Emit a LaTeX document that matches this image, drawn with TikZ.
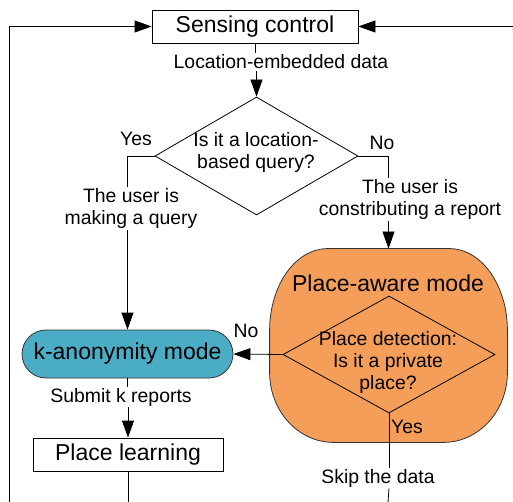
\documentclass[tikz,border=0pt]{standalone}
\usepackage{fontspec}
\setmainfont{Liberation Sans}
\usetikzlibrary{shapes.geometric,arrows.meta}
\definecolor{paorange}{HTML}{F59E59}
\definecolor{kblue}{HTML}{4BACC6}
\begin{document}
\begin{tikzpicture}[x=1pt,y=1pt,
  line width=0.8pt,
  small/.style={font=\fontsize{19.4}{21.8}\selectfont, align=center, inner sep=1pt},
  big/.style={font=\fontsize{23}{26}\selectfont, align=center, inner sep=0pt},
  boxnode/.style={draw, rectangle, big},
  diam/.style={draw, diamond, inner sep=0pt},
  wlab/.style={small, fill=white},
  arr/.style={-{Triangle[length=17pt,width=12pt]}},
]
\useasboundingbox (0,0) rectangle (513,-502);

% main shapes
\node[boxnode, minimum width=206, minimum height=33] (sense) at (255,-26.5) {Sensing control};
\node[diam, minimum width=203, minimum height=118] (q) at (256.5,-156) {};
\node[small] (qt) at (256,-152.5) {Is it a location-\\based query?};

\node[rectangle, minimum width=237, minimum height=193, inner sep=0pt] (pa) at (388.5,-345.5) {};
\draw[fill=paorange, draw=black!80]
  ([xshift=58]pa.north west) -- ([xshift=-58]pa.north east)
  arc[start angle=90, end angle=0, x radius=58, y radius=82]
  -- ([yshift=70]pa.south east)
  arc[start angle=0, end angle=-90, x radius=64, y radius=70]
  -- ([xshift=64]pa.south west)
  arc[start angle=270, end angle=180, x radius=64, y radius=70]
  -- ([yshift=-82]pa.north west)
  arc[start angle=180, end angle=90, x radius=58, y radius=82]
  -- cycle;
\node[big] (patitle) at (388,-283) {Place-aware mode};
\node[diam, minimum width=212, minimum height=117] (pd) at (389,-354.5) {};
\node[small] (pdt) at (388,-362.5) {Place detection:\\Is it a private\\place?};

\node[draw=black!80, fill=kblue, rectangle, rounded corners=24, minimum width=211, minimum height=48, big] (k) at (127.5,-354) {k-anonymity mode};
\node[boxnode, minimum width=190, minimum height=33] (pl) at (128,-454.5) {Place learning};

% labels
\node[small] (loclab) at (281,-62) {Location-embedded data};
\node[small] (yes1) at (136,-139) {Yes};
\node[small] (no1) at (382,-143) {No};
\node[small] (qy) at (131,-208.5) {The user is\\making a query};
\node[small] (qn) at (410,-199.5) {The user is\\constributing a report};
\node[small] (no2) at (246,-331) {No};
\node[small] (yes2) at (407,-427) {Yes};
\node[wlab] (skip) at (378,-478) {Skip the data};
\node[small] (sub) at (121,-397) {Submit k reports};

% free ends
\coordinate (lb) at (9,-502);
\coordinate (rb) at (514,-26.5);
\coordinate (plb) at (128,-502);
\coordinate (pdb) at (388,-502);

% connectors
\draw[arr] (lb) |- (sense.west);
\draw[arr] (rb) -- (sense.east);
\draw (sense.south) -- (sense.south |- loclab.north);
\draw[arr] (q.north |- loclab.south) -- (q.north);
\draw (q.west) -| (k.north |- qy.north);
\draw[arr] (k.north |- qy.south) -- (k.north);
\draw (q.east) -| (pa.north |- qn.north);
\draw[arr] (pa.north |- qn.south) -- (pa.north);
\draw[arr] (pd.west) -- (k.east);
\draw (k.south) -- (k.south |- sub.north);
\draw[arr] (pl.north |- sub.south) -- (pl.north);
\draw (pl.south) -- (plb);
\draw (pd.south) -- (pd.south |- skip.north);
\draw (pd.south |- skip.south) -- (pdb);
\end{tikzpicture}
\end{document}
